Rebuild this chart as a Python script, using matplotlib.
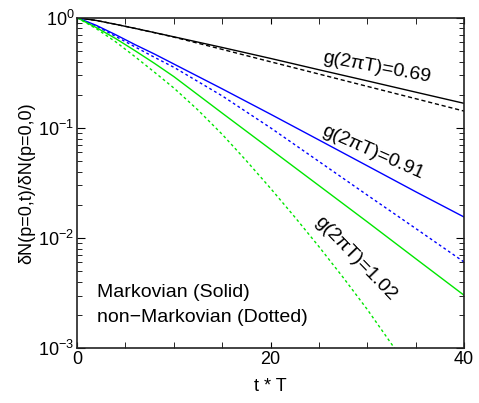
import matplotlib
matplotlib.use("Agg")
import matplotlib.pyplot as plt
from matplotlib.ticker import FixedLocator, LogLocator, NullFormatter

plt.rcParams['font.family'] = ['Liberation Sans', 'DejaVu Sans']
plt.rcParams['mathtext.fontset'] = 'custom'
plt.rcParams['mathtext.rm'] = 'Liberation Sans'
plt.rcParams['mathtext.it'] = 'Liberation Sans:italic'

# values
t = [0, 2, 4, 6, 8, 10, 15, 20, 25, 30, 35, 40]
black_solid = [1, 0.944, 0.871, 0.800, 0.733, 0.671, 0.537, 0.427, 0.337, 0.267, 0.211, 0.167]
black_dotted = [1, 0.944, 0.871, 0.800, 0.731, 0.667, 0.516, 0.398, 0.308, 0.238, 0.184, 0.142]
blue_solid = [1, 0.851, 0.700, 0.569, 0.468, 0.380, 0.226, 0.133, 0.0776, 0.0452, 0.0263, 0.0155]
blue_dotted = [1, 0.841, 0.676, 0.543, 0.437, 0.355, 0.195, 0.100, 0.0495, 0.0245, 0.0122, 0.00605]
green_solid = [1, 0.813, 0.646, 0.501, 0.385, 0.292, 0.136, 0.0638, 0.0299, 0.0140, 0.00649, 0.00302]
t_green_dot = [0, 2, 4, 6, 8, 10, 12.5, 15, 17.5, 20, 22.5, 25, 27.5, 30, 32.8]
green_dotted = [1, 0.794, 0.603, 0.442, 0.320, 0.230, 0.145, 0.0873, 0.0502, 0.0282,
                0.0155, 0.00834, 0.00438, 0.00224, 0.001]

labels = ["g(2πT)=0.69", "g(2πT)=0.91", "g(2πT)=1.02"]
label_t = [30.9, 30.5, 28.8]
label_y = [0.350, 0.0598, 0.00646]
label_rot = [-10.5, -24, -46]

green = '#00e600'

fig = plt.figure(figsize=(4.79, 4.03), dpi=100)
ax = fig.add_axes([0.161, 0.136, 0.808, 0.820])

ax.plot(t, black_solid, color='black', lw=1.0)
ax.plot(t, black_dotted, color='black', lw=1.0, dashes=(3, 2))
ax.plot(t, blue_solid, color='blue', lw=1.0)
ax.plot(t, blue_dotted, color='blue', lw=1.0, dashes=(2, 2))
ax.plot(t, green_solid, color=green, lw=1.0)
ax.plot(t_green_dot, green_dotted, color=green, lw=1.0, dashes=(2, 2))

ax.set_yscale('log')
ax.set_xlim(0, 40)
ax.set_ylim(1e-3, 1)

ax.xaxis.set_major_locator(FixedLocator([0, 20, 40]))
ax.xaxis.set_minor_locator(FixedLocator([5, 10, 15, 25, 30, 35]))
ax.yaxis.set_major_locator(LogLocator(base=10, numticks=10))
ax.yaxis.set_minor_locator(LogLocator(base=10, subs=range(2, 10), numticks=10))
ax.yaxis.set_minor_formatter(NullFormatter())

ax.tick_params(which='both', direction='in', top=True, right=True, labelsize=13)
ax.tick_params(axis='x', which='both', length=4, pad=2)
ax.tick_params(axis='y', which='major', length=6, pad=2)
ax.tick_params(axis='y', which='minor', length=3.5)
for s in ax.spines.values():
    s.set_linewidth(1.2)
    s.set_color('#222222')

ax.set_xlabel('t * T', fontsize=13, labelpad=7)
ax.set_ylabel('δN(p=0,t)/δN(p=0,0)', fontsize=13, labelpad=2)

for txt, x, y, r in zip(labels, label_t, label_y, label_rot):
    ax.text(x, y, txt, fontsize=14, rotation=r, rotation_mode='anchor',
            ha='center', va='center')

ax.text(0.051, 0.170, 'Markovian (Solid)', transform=ax.transAxes,
        fontsize=14, va='center', ha='left')
ax.text(0.051, 0.092, 'non\u2212Markovian (Dotted)', transform=ax.transAxes,
        fontsize=14, va='center', ha='left')

fig.savefig('out.png', dpi=100)
